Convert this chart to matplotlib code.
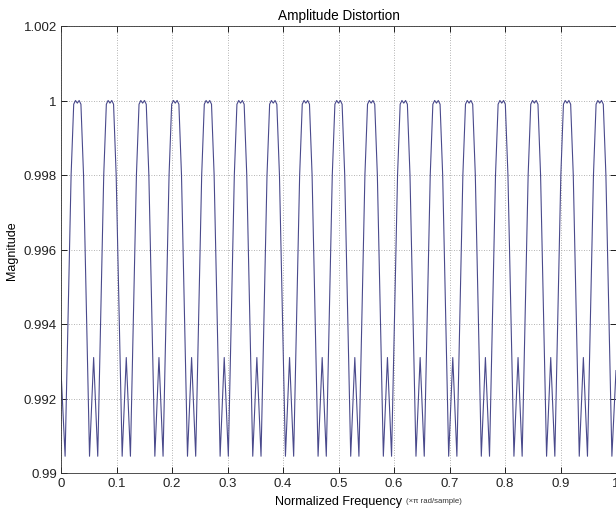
import matplotlib
matplotlib.use("Agg")
import matplotlib.pyplot as plt
import numpy as np

# ---- data ----
# centres of the big (unity) peaks, normalized frequency (x pi rad/sample)
peak_freqs = [0.0294, 0.0882, 0.1471, 0.2059, 0.2647, 0.3235, 0.3824, 0.4412, 0.5000,
              0.5588, 0.6176, 0.6765, 0.7353, 0.7941, 0.8529, 0.9118, 0.9706]
# shape around every big peak: offsets from peak centre and magnitudes
peak_offsets = [-0.0220, -0.0112, -0.0065, -0.0033, 0.0, 0.0033, 0.0065, 0.0112, 0.0220]
peak_values = [0.99045, 0.9980, 0.99990, 1.0000, 0.99993, 1.0000, 0.99990, 0.9980, 0.99045]
# small ripples between the big peaks
small_peak_freqs = [0.0588, 0.1176, 0.1765, 0.2353, 0.2941, 0.3529, 0.4118, 0.4706,
                    0.5294, 0.5882, 0.6471, 0.7059, 0.7647, 0.8235, 0.8824, 0.9412]
small_peak_value = 0.99310
edge_freqs = [0.0, 1.0]
edge_values = [0.99275, 0.99275]

xticks = [0, 0.1, 0.2, 0.3, 0.4, 0.5, 0.6, 0.7, 0.8, 0.9, 1]
xticklabels = ['0', '0.1', '0.2', '0.3', '0.4', '0.5', '0.6', '0.7', '0.8', '0.9', '1']
yticks = [0.99, 0.992, 0.994, 0.996, 0.998, 1.0, 1.002]
yticklabels = ['0.99', '0.992', '0.994', '0.996', '0.998', '1', '1.002']

# ---- assemble the polyline ----
xs = list(edge_freqs) + list(small_peak_freqs)
ys = list(edge_values) + [small_peak_value] * len(small_peak_freqs)
for p in peak_freqs:
    for o, v in zip(peak_offsets, peak_values):
        xs.append(p + o)
        ys.append(v)
order = np.argsort(xs)
xs = np.array(xs)[order]
ys = np.array(ys)[order]

plt.rcParams['font.family'] = ['Liberation Sans', 'DejaVu Sans']

W, H = 616, 510
fig = plt.figure(figsize=(W / 100, H / 100), dpi=100)
ax = fig.add_axes([61 / W, (H - 474) / H, 555 / W, 447 / H])

ax.plot(xs, ys, color='#4a4a8c', lw=0.8)

ax.set_xlim(0, 1)
ax.set_ylim(0.99, 1.002)
ax.set_xticks(xticks)
ax.set_xticklabels(xticklabels)
ax.set_yticks(yticks)
ax.set_yticklabels(yticklabels)
ax.tick_params(direction='in', length=4, width=0.6, top=True, right=True,
               labelsize=9.5, pad=3, colors='black')
for lab in ax.get_xticklabels() + ax.get_yticklabels():
    lab.set_color('#222222')
ax.grid(True, linestyle=(0, (1, 2)), color='#9a9a9a', lw=0.6)
for s in ax.spines.values():
    s.set_linewidth(0.6)
    s.set_color('#333333')

ax.set_title('Amplitude Distortion', fontsize=9.8, pad=5)
ax.set_ylabel('Magnitude', fontsize=9, labelpad=4)
fig.text(275 / W, 1 - 502 / H, 'Normalized Frequency', fontsize=9.1,
         ha='left', va='center')
fig.text(406 / W, 1 - 502 / H, '(\u00d7\u03c0 rad/sample)', fontsize=5.6,
         ha='left', va='center', color='#333333')

fig.savefig('out.png', dpi=100)
